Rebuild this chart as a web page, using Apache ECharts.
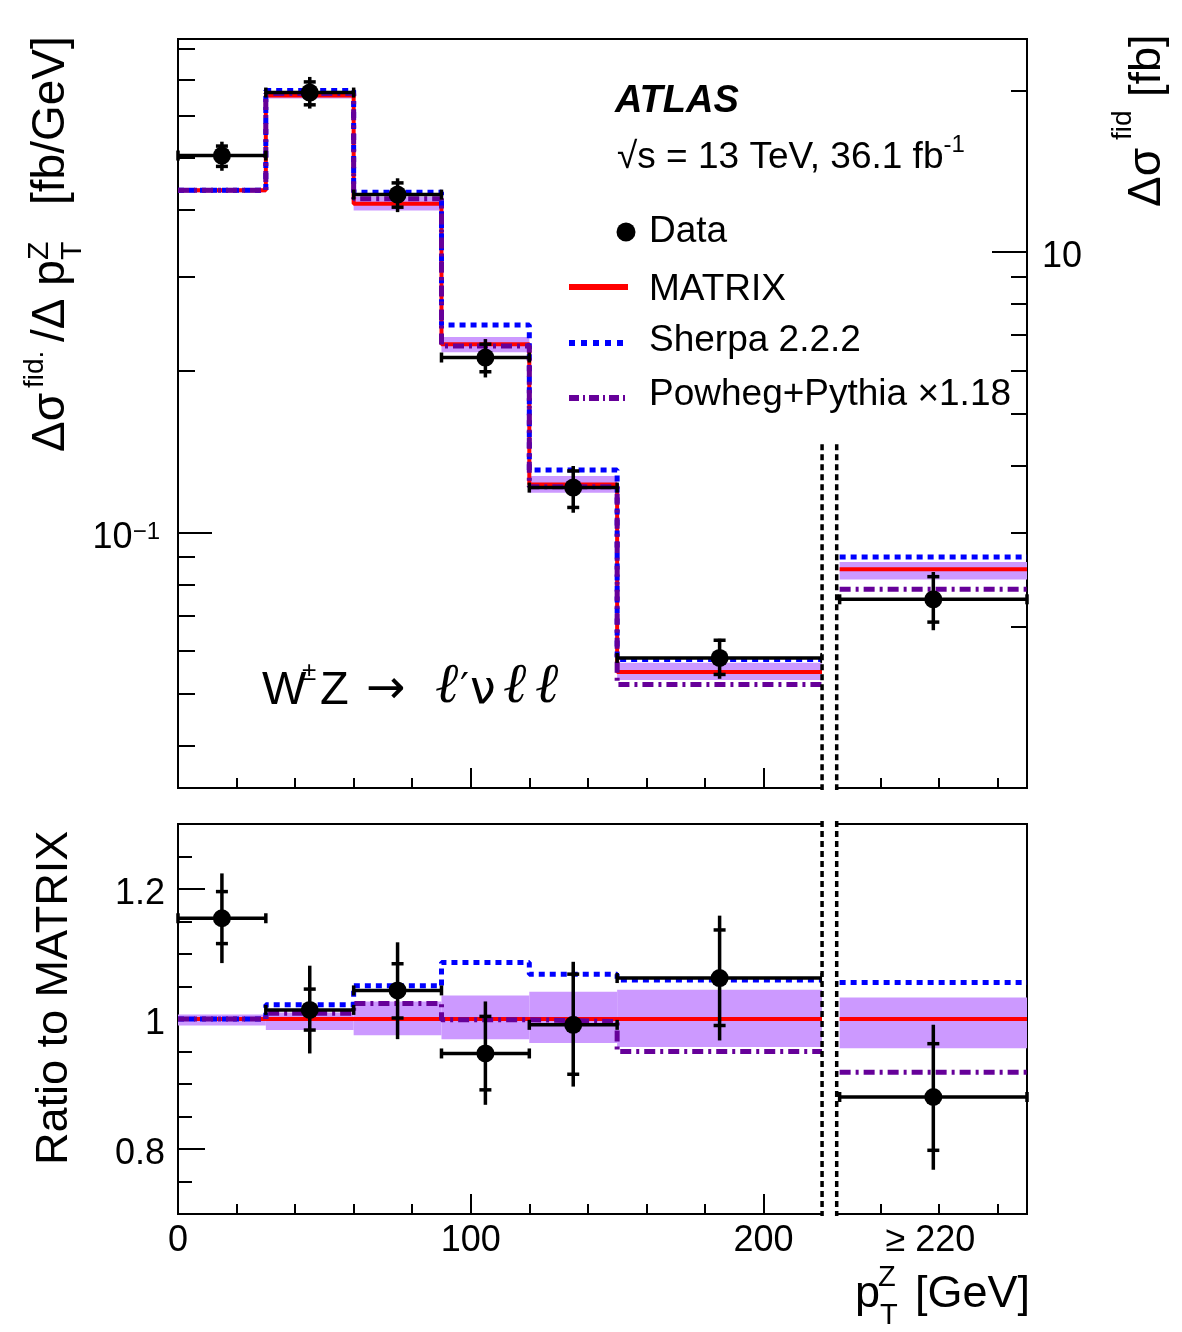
<!DOCTYPE html>
<html>
<head>
<meta charset="utf-8">
<title>WZ pTZ</title>
<script src="https://cdn.jsdelivr.net/npm/echarts@6/dist/echarts.min.js"></script>
<style>
  html, body { margin: 0; padding: 0; background: #fff; }
  #chart { width: 1182px; height: 1332px; }
</style>
</head>
<body>
<div id="chart"></div>
<script>
// pT(Z) bins in GeV; the last one is the >= 220 GeV bin, drawn after the gap
const binLo = [0, 30, 60, 90, 120, 150, 226];
const binHi = [30, 60, 90, 120, 150, 220, 290];
const binMid = [15, 45, 75, 105, 135, 185, 258];

// upper panel: six bins in fb/GeV (left axis), last bin in fb (right axis)
const dataXs = [0.505, 0.662, 0.427, 0.212, 0.1212, 0.0583, 2.25];
const dataXsTotLo = [0.473, 0.618, 0.396, 0.1946, 0.1088, 0.0533, 1.97];
const dataXsTotHi = [0.536, 0.708, 0.458, 0.2295, 0.133, 0.0633, 2.53];
const dataXsStatLo = [0.482, 0.628, 0.4045, 0.1994, 0.1113, 0.0543, 2.04];
const dataXsStatHi = [0.526, 0.693, 0.449, 0.2245, 0.1302, 0.0629, 2.48];
const matrixXs = [0.435, 0.654, 0.4105, 0.2245, 0.1229, 0.0549, 2.56];
const matrixXsLo = [0.431, 0.645, 0.3986, 0.2169, 0.1186, 0.0530, 2.45];
const matrixXsHi = [0.439, 0.664, 0.4229, 0.2315, 0.1274, 0.0571, 2.64];
const sherpaXs = [0.435, 0.668, 0.4315, 0.2437, 0.1307, 0.0579, 2.70];
const powhegXs = [0.435, 0.659, 0.4194, 0.2228, 0.1217, 0.0520, 2.35];

// lower panel: ratio to MATRIX
const dataRatio = [1.155, 1.014, 1.044, 0.947, 0.991, 1.063, 0.880];
const dataRatioTotLo = [1.086, 0.947, 0.969, 0.868, 0.896, 0.967, 0.768];
const dataRatioTotHi = [1.224, 1.082, 1.118, 1.027, 1.088, 1.159, 0.991];
const dataRatioStatLo = [1.116, 0.983, 1.0015, 0.891, 0.915, 0.990, 0.798];
const dataRatioStatHi = [1.196, 1.046, 1.085, 1.004, 1.069, 1.137, 0.962];
const matrixRatio = [1, 1, 1, 1, 1, 1, 1];
const matrixRatioLo = [0.990, 0.983, 0.975, 0.969, 0.963, 0.957, 0.955];
const matrixRatioHi = [1.007, 1.010, 1.027, 1.036, 1.042, 1.045, 1.033];
const sherpaRatio = [1.0, 1.022, 1.051, 1.087, 1.069, 1.060, 1.056];
const powhegRatio = [1.0, 1.009, 1.024, 0.999, 0.996, 0.950, 0.918];

// axes
const xMin = 0, xMax = 290;
const xMajorTicks = [0, 100, 200];
const xMinorTicks = [20, 40, 60, 80, 120, 140, 160, 180, 240, 260, 280];
const xLabelValues = [0, 100, 200, 257];
const xLabelTexts = ['0', '100', '200', '\u2265 220'];
const fidMin = 1 / 30, fidMax = 25 / 30;      // fb/GeV
const fbMin = 1, fbMax = 25;                  // fb, right axis
const fidMajorTicks = [0.1];
const fidMinorTicks = [0.04, 0.05, 0.06, 0.07, 0.08, 0.09, 0.2, 0.3, 0.4, 0.5, 0.6, 0.7, 0.8];
const fbMajorTicks = [10];
const fbMinorTicks = [2, 3, 4, 5, 6, 7, 8, 9, 20];
const ratioMin = 0.7, ratioMax = 1.3;
const ratioMajorTicks = [0.8, 1, 1.2];
const ratioMinorTicks = [0.75, 0.85, 0.9, 0.95, 1.05, 1.1, 1.15, 1.25];
const sepX = [220, 225];
const sepTopFid = 0.146;

const FONT = 'Liberation Sans';
const SERIF = 'DejaVu Serif';
const RED = '#ff0000', BLUE = '#0000ff', PURPLE = '#660099', BAND = '#cc99ff';
const lg = Math.log10;
const ident = v => v;
const MAIN = [0, 1, 2, 3, 4, 5], OVER = [6];

const matrixStyle = { color: RED, width: 4 };
const sherpaStyle = { color: BLUE, width: 5, type: [6, 5] };
const powhegStyle = { color: PURPLE, width: 5, type: [11, 5, 3, 5] };

function xAx(grid, ticks, len, labels) {
  return {
    type: 'value', gridIndex: grid, min: xMin, max: xMax, position: 'bottom',
    axisLine: { show: false, onZero: false },
    splitLine: { show: false },
    axisTick: { show: true, inside: true, length: len, customValues: ticks, lineStyle: { color: '#000', width: 2 } },
    axisLabel: labels ? {
      show: true, customValues: xLabelValues, margin: 9,
      formatter: v => xLabelTexts[xLabelValues.indexOf(v)],
      fontSize: 36, fontFamily: FONT, color: '#000'
    } : { show: false }
  };
}

function yAx(grid, pos, min, max, ticks, len, label) {
  return {
    type: 'value', gridIndex: grid, position: pos, min: min, max: max,
    axisLine: { show: false, onZero: false },
    splitLine: { show: false },
    axisTick: { show: true, inside: true, length: len, customValues: ticks, lineStyle: { color: '#000', width: 2 } },
    axisLabel: label ? Object.assign({ show: true, fontSize: 36, fontFamily: FONT, color: '#000' }, label) : { show: false }
  };
}

// plain number label nudged down a few pixels, like the ROOT output
const numRich = { v: { fontSize: 36, lineHeight: 36, fontFamily: FONT, padding: [10, 0, 0, 0] } };

function stepPoints(vals, tf) {
  const pts = MAIN.map(i => [binLo[i], tf(vals[i])]);
  pts.push([binHi[5], tf(vals[5])]);
  return pts;
}

function histo(vals, style, xi, yi, yiOver, tf, z) {
  return [
    { type: 'line', xAxisIndex: xi, yAxisIndex: yi, step: 'end', symbol: 'none', silent: true, z: z,
      data: stepPoints(vals, tf), lineStyle: style },
    { type: 'line', xAxisIndex: xi, yAxisIndex: yiOver, symbol: 'none', silent: true, z: z,
      data: [[binLo[6], tf(vals[6])], [binHi[6], tf(vals[6])]], lineStyle: style }
  ];
}

function band(idx, lo, hi, xi, yi, tf) {
  return {
    type: 'custom', coordinateSystem: 'cartesian2d', xAxisIndex: xi, yAxisIndex: yi, z: 2, silent: true,
    encode: { x: 0, y: 2 },
    data: idx.map(i => [binLo[i], binHi[i], tf(lo[i]), tf(hi[i])]),
    renderItem: (p, api) => {
      const a = api.coord([api.value(0), api.value(3)]);
      const b = api.coord([api.value(1), api.value(2)]);
      return { type: 'rect', shape: { x: a[0], y: a[1], width: b[0] - a[0], height: b[1] - a[1] }, style: { fill: BAND } };
    }
  };
}

function points(idx, v, tLo, tHi, sLo, sHi, xi, yi, tf) {
  return {
    type: 'custom', coordinateSystem: 'cartesian2d', xAxisIndex: xi, yAxisIndex: yi, z: 7, silent: true,
    encode: { x: 0, y: 3 },
    data: idx.map(i => [binMid[i], binLo[i], binHi[i], tf(v[i]), tf(tLo[i]), tf(tHi[i]), tf(sLo[i]), tf(sHi[i])]),
    renderItem: (p, api) => {
      const c = api.coord([api.value(0), api.value(3)]);
      const xl = api.coord([api.value(1), api.value(3)])[0];
      const xr = api.coord([api.value(2), api.value(3)])[0];
      const yb = api.coord([api.value(0), api.value(4)])[1];
      const yt = api.coord([api.value(0), api.value(5)])[1];
      const s1 = api.coord([api.value(0), api.value(6)])[1];
      const s2 = api.coord([api.value(0), api.value(7)])[1];
      const seg = (x1, y1, x2, y2) => ({ type: 'line', shape: { x1, y1, x2, y2 }, style: { stroke: '#000', lineWidth: 3.5 } });
      return { type: 'group', children: [
        seg(xl, c[1], xr, c[1]),
        seg(xl, c[1] - 5, xl, c[1] + 5),
        seg(xr, c[1] - 5, xr, c[1] + 5),
        seg(c[0], yt, c[0], yb),
        seg(c[0] - 6, s1, c[0] + 6, s1),
        seg(c[0] - 6, s2, c[0] + 6, s2),
        { type: 'circle', shape: { cx: c[0], cy: c[1], r: 9 }, style: { fill: '#000' } }
      ] };
    }
  };
}

function separator(xi, yi, yTop, yBot, ext) {
  return {
    type: 'custom', coordinateSystem: 'cartesian2d', xAxisIndex: xi, yAxisIndex: yi, z: 9, silent: true, clip: false,
    encode: { x: 0, y: 2 },
    data: [[sepX[0], sepX[1], yTop, yBot]],
    renderItem: (p, api) => {
      const a = api.coord([api.value(0), api.value(2)]);
      const b = api.coord([api.value(1), api.value(3)]);
      const dl = x => ({ type: 'line', shape: { x1: x, y1: a[1] - ext, x2: x, y2: b[1] + 2 },
        style: { stroke: '#000', lineWidth: 3.5, lineDash: [6, 4] } });
      return { type: 'group', children: [
        { type: 'rect', shape: { x: a[0], y: a[1] - ext, width: b[0] - a[0], height: b[1] - a[1] + ext + 3 }, style: { fill: '#fff' } },
        dl(a[0]), dl(b[0])
      ] };
    }
  };
}

function txt(text, x, base, size, extra) {
  return { type: 'text', x: x, y: base - 0.35 * size,
    style: Object.assign({ text: text, fontSize: size, fontFamily: FONT, fill: '#000', align: 'left', verticalAlign: 'middle' }, extra || {}) };
}

const series = [].concat(
  band(MAIN, matrixXsLo, matrixXsHi, 0, 0, lg),
  band(OVER, matrixXsLo, matrixXsHi, 0, 2, lg),
  histo(matrixXs, matrixStyle, 0, 0, 2, lg, 3),
  histo(sherpaXs, sherpaStyle, 0, 0, 2, lg, 4),
  histo(powhegXs, powhegStyle, 0, 0, 2, lg, 5),
  points(MAIN, dataXs, dataXsTotLo, dataXsTotHi, dataXsStatLo, dataXsStatHi, 0, 0, lg),
  points(OVER, dataXs, dataXsTotLo, dataXsTotHi, dataXsStatLo, dataXsStatHi, 0, 2, lg),
  separator(0, 0, lg(sepTopFid), lg(fidMin), 0),

  band(MAIN.concat(OVER), matrixRatioLo, matrixRatioHi, 2, 4, ident),
  histo(matrixRatio, matrixStyle, 2, 4, 4, ident, 3),
  histo(sherpaRatio, sherpaStyle, 2, 4, 4, ident, 4),
  histo(powhegRatio, powhegStyle, 2, 4, 4, ident, 5),
  points(MAIN.concat(OVER), dataRatio, dataRatioTotLo, dataRatioTotHi, dataRatioStatLo, dataRatioStatHi, 2, 4, ident),
  separator(2, 4, ratioMax, ratioMin, 3)
);

const graphic = [
  txt('ATLAS', 615, 115, 38, { fontWeight: 'bold', fontStyle: 'italic' }),
  { type: 'text', x: 617, y: 133, style: {
      text: '{n|\u221As = 13 TeV, 36.1 fb}{s|-1}', fill: '#000', verticalAlign: 'top',
      rich: { n: { fontSize: 37, lineHeight: 49, fontFamily: FONT }, s: { fontSize: 24, lineHeight: 24, verticalAlign: 'top', fontFamily: FONT } } } },
  // legend
  { type: 'circle', shape: { cx: 626, cy: 232, r: 9.5 }, style: { fill: '#000' } },
  { type: 'line', shape: { x1: 569, y1: 287, x2: 628, y2: 287 }, style: { stroke: RED, lineWidth: 6 } },
  { type: 'line', shape: { x1: 569, y1: 343, x2: 628, y2: 343 }, style: { stroke: BLUE, lineWidth: 6, lineDash: [6, 6] } },
  { type: 'line', shape: { x1: 569, y1: 398, x2: 628, y2: 398 }, style: { stroke: PURPLE, lineWidth: 6, lineDash: [10, 4, 2, 4] } },
  txt('Data', 649, 245, 37),
  txt('MATRIX', 649, 303, 37),
  txt('Sherpa 2.2.2', 649, 354, 37),
  txt('Powheg+Pythia \u00d71.18', 649, 408, 37),
  // process label
  txt('W', 262, 707, 47),
  txt('\u00b1', 302, 682, 26),
  txt('Z', 320, 707, 47),
  txt('\u2192', 366, 707, 47, { fontFamily: 'DejaVu Sans' }),
  txt('\u2113', 435, 707, 56, { fontFamily: SERIF, fontStyle: 'italic' }),
  txt('\u2032', 460, 705, 40, { fontFamily: SERIF }),
  txt('\u03bd', 470, 707, 46, { fontFamily: 'DejaVu Sans' }),
  txt('\u2113', 503, 707, 56, { fontFamily: SERIF, fontStyle: 'italic' }),
  txt('\u2113', 535, 707, 56, { fontFamily: SERIF, fontStyle: 'italic' }),
  // left y title, reads bottom to top
  { type: 'group', x: 67, y: 452, rotation: Math.PI / 2, children: [
      txt('\u0394\u03c3', 0, 0, 46),
      txt('fid.', 64, -22, 28),
      txt('/\u0394 p', 110, 0, 46),
      txt('Z', 192, -17, 30),
      txt('T', 192, 16, 30),
      txt('[fb/GeV]', 247, 0, 46)
  ] },
  // right y title
  { type: 'group', x: 1163, y: 207, rotation: Math.PI / 2, children: [
      txt('\u0394\u03c3', 0, 0, 46),
      txt('fid', 67, -30, 28),
      txt('[fb]', 110, 0, 45)
  ] },
  // ratio title
  { type: 'group', x: 70, y: 1165, rotation: Math.PI / 2, children: [
      txt('Ratio to MATRIX', 0, 0, 45)
  ] },
  // x title
  txt('p', 855, 1310, 45),
  txt('Z', 878, 1288, 29),
  txt('T', 880, 1326, 29),
  txt('[GeV]', 915, 1310, 45)
];

const chart = echarts.init(document.getElementById('chart'), null, { renderer: 'canvas' });
chart.setOption({
  animation: false,
  backgroundColor: '#fff',
  grid: [
    { left: 178, top: 39, width: 849, height: 749, show: true, borderColor: '#000', borderWidth: 2, backgroundColor: 'transparent', outerBoundsMode: 'none' },
    { left: 178, top: 824, width: 849, height: 390, show: true, borderColor: '#000', borderWidth: 2, backgroundColor: 'transparent', outerBoundsMode: 'none' }
  ],
  xAxis: [
    xAx(0, xMajorTicks, 20, false),
    xAx(0, xMinorTicks, 10, false),
    xAx(1, xMajorTicks, 20, true),
    xAx(1, xMinorTicks, 10, false)
  ],
  yAxis: [
    yAx(0, 'left', lg(fidMin), lg(fidMax), fidMajorTicks.map(lg), 34, {
      customValues: fidMajorTicks.map(lg), margin: 18, padding: [12, 0, 0, 0],
      formatter: () => '{b|10}{s|\u22121}',
      rich: { b: { fontSize: 36, lineHeight: 36, fontFamily: FONT }, s: { fontSize: 24, lineHeight: 24, verticalAlign: 'top', fontFamily: FONT } }
    }),
    yAx(0, 'left', lg(fidMin), lg(fidMax), fidMinorTicks.map(lg), 17, null),
    yAx(0, 'right', lg(fbMin), lg(fbMax), fbMajorTicks.map(lg), 35, {
      customValues: fbMajorTicks.map(lg), margin: 15, rich: numRich,
      formatter: v => '{v|' + Math.round(Math.pow(10, v)) + '}'
    }),
    yAx(0, 'right', lg(fbMin), lg(fbMax), fbMinorTicks.map(lg), 16, null),
    yAx(1, 'left', ratioMin, ratioMax, ratioMajorTicks, 27, {
      customValues: ratioMajorTicks, margin: 13, rich: numRich, formatter: v => '{v|' + v + '}'
    }),
    yAx(1, 'left', ratioMin, ratioMax, ratioMinorTicks, 14, null)
  ],
  series: series,
  graphic: graphic
});
</script>
</body>
</html>
